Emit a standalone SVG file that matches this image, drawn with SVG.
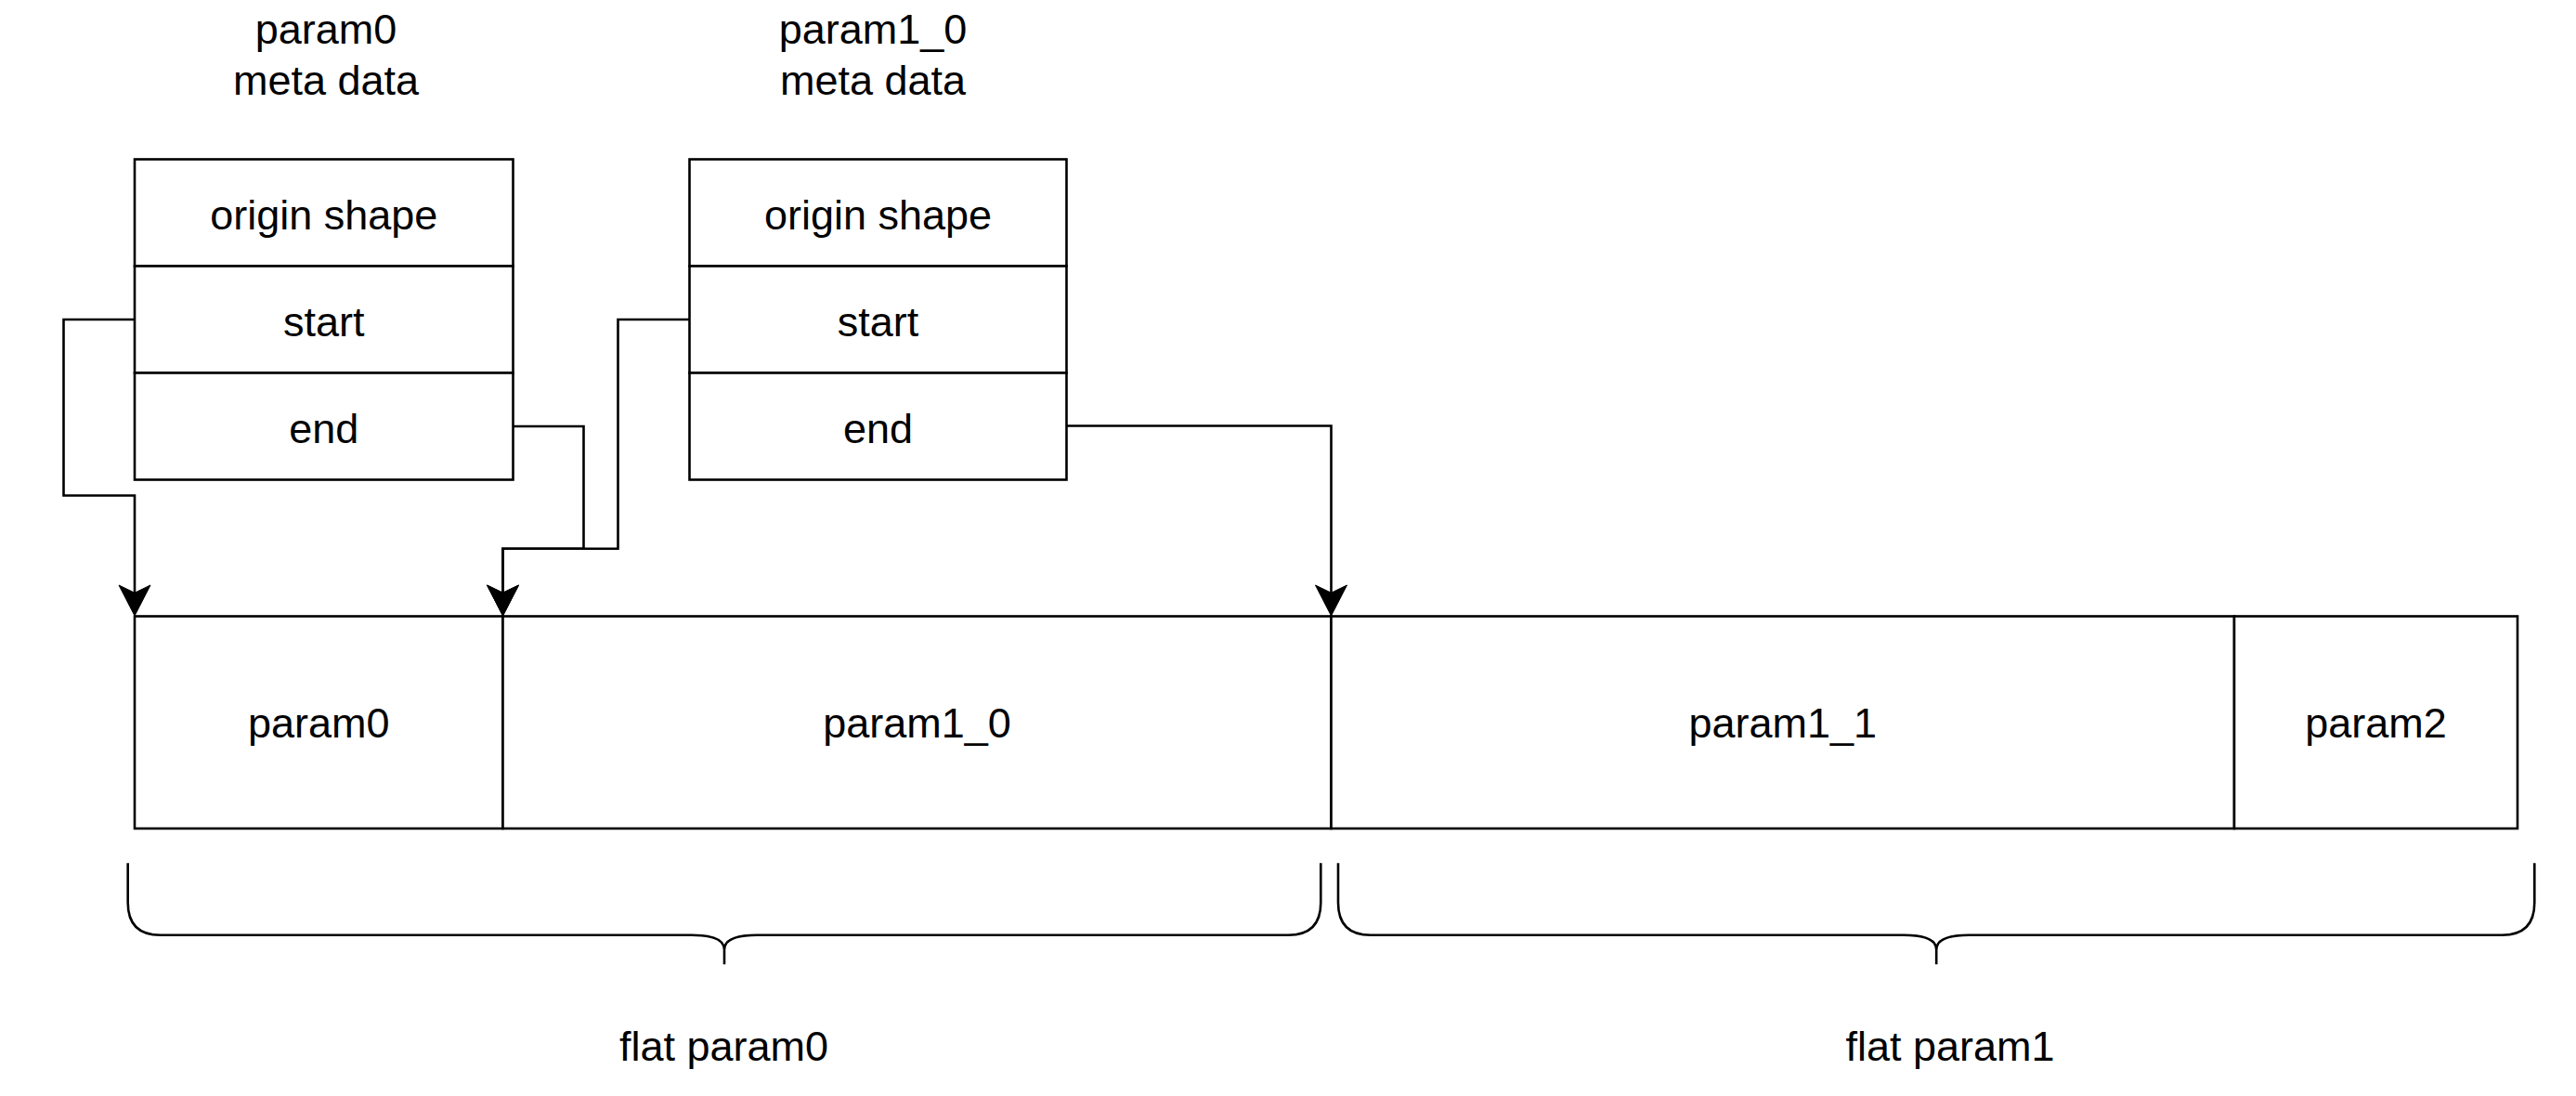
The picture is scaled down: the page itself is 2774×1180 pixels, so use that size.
<svg xmlns="http://www.w3.org/2000/svg" width="2774" height="1180" viewBox="0 0 2774 1180">
  <style>
    .box { fill: #ffffff; stroke: #000000; stroke-width: 2.6; }
    .lbl { font-family: "Liberation Sans", Arial, Helvetica, sans-serif; font-size: 45px; fill: #000000; text-anchor: middle; }
    .conn { fill: none; stroke: #000000; stroke-width: 2.6; }
    .brace { fill: none; stroke: #000000; stroke-width: 2.6; }
  </style>
  <defs>
    <marker id="arrow" viewBox="0 0 34 34" markerUnits="userSpaceOnUse" markerWidth="34" markerHeight="34" refX="8.25" refY="17" orient="auto" overflow="visible">
      <path d="M33,17 L0,0 L8.25,17 L0,34 Z" fill="#000000" stroke="#000000" stroke-width="1"/>
    </marker>
  </defs>
  <rect x="0" y="0" width="2774" height="1180" fill="#ffffff"/>

  <g id="meta0-title">
    <text class="lbl" x="351" y="47">param0</text>
    <text class="lbl" x="351" y="101.5">meta data</text>
  </g>
  <g id="meta1-title">
    <text class="lbl" x="940" y="47">param1_0</text>
    <text class="lbl" x="940" y="101.5">meta data</text>
  </g>

  <g id="meta0">
    <rect class="box" x="145" y="171.5" width="407.5" height="115"/>
    <rect class="box" x="145" y="286.5" width="407.5" height="115"/>
    <rect class="box" x="145" y="401.5" width="407.5" height="115"/>
    <text class="lbl" x="348.75" y="246.5">origin shape</text>
    <text class="lbl" x="348.75" y="361.5">start</text>
    <text class="lbl" x="348.75" y="476.5">end</text>
  </g>
  <g id="meta1">
    <rect class="box" x="742.5" y="171.5" width="406" height="115"/>
    <rect class="box" x="742.5" y="286.5" width="406" height="115"/>
    <rect class="box" x="742.5" y="401.5" width="406" height="115"/>
    <text class="lbl" x="945.5" y="246.5">origin shape</text>
    <text class="lbl" x="945.5" y="361.5">start</text>
    <text class="lbl" x="945.5" y="476.5">end</text>
  </g>

  <g id="cell-param0">
    <rect class="box" x="145" y="663.5" width="396.5" height="228.5"/>
    <text class="lbl" x="343.25" y="794">param0</text>
  </g>
  <g id="cell-param1_0">
    <rect class="box" x="541.5" y="663.5" width="892" height="228.5"/>
    <text class="lbl" x="987.5" y="794">param1_0</text>
  </g>
  <g id="cell-param1_1">
    <rect class="box" x="1433.5" y="663.5" width="972.5" height="228.5"/>
    <text class="lbl" x="1919.75" y="794">param1_1</text>
  </g>
  <g id="cell-param2">
    <rect class="box" x="2406" y="663.5" width="305" height="228.5"/>
    <text class="lbl" x="2558.5" y="794">param2</text>
  </g>

  <g id="brace-flat0">
    <path class="brace" d="M137.7,929.3 V971.7 Q137.7,1006.7 172.7,1006.7 H745 Q780,1006.7 780,1022.5 V1038.3 M780,1022.5 Q780,1006.7 815,1006.7 H1387.3 Q1422.3,1006.7 1422.3,971.7 V929.3"/>
  </g>
  <g id="brace-flat1">
    <path class="brace" d="M1441,929.3 V971.7 Q1441,1006.7 1476,1006.7 H2050.2 Q2085.2,1006.7 2085.2,1022.5 V1038.3 M2085.2,1022.5 Q2085.2,1006.7 2120.2,1006.7 H2694.3 Q2729.3,1006.7 2729.3,971.7 V929.3"/>
  </g>
  <g id="label-flat0">
    <text class="lbl" x="779.5" y="1141.5">flat param0</text>
  </g>
  <g id="label-flat1">
    <text class="lbl" x="2100" y="1141.5">flat param1</text>
  </g>

  <g id="connectors">
    <path class="conn" marker-end="url(#arrow)" d="M145,344 H68.5 V533.5 H145 V638.25"/>
    <path class="conn" marker-end="url(#arrow)" d="M552.5,459 H628.5 V590.7 H541.5 V638.25"/>
    <path class="conn" marker-end="url(#arrow)" d="M742.5,344 H665.5 V590.7 H541.5 V638.25"/>
    <path class="conn" marker-end="url(#arrow)" d="M1148.5,458.5 H1433.5 V638.25"/>
  </g>
</svg>
